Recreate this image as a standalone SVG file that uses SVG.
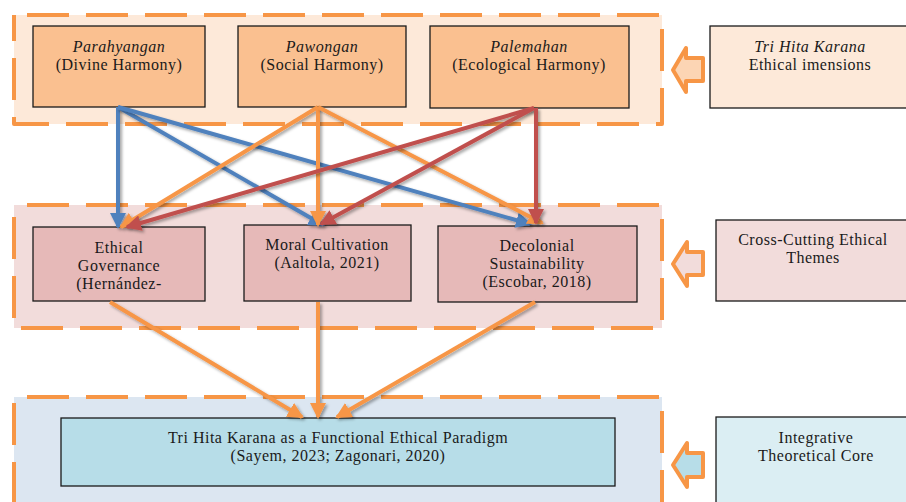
<svg xmlns="http://www.w3.org/2000/svg" width="906" height="502" viewBox="0 0 906 502">
<style>
  .grp { stroke: #f79646; stroke-width: 4; stroke-dasharray: 42 17; stroke-dashoffset: 46; stroke-linejoin: round; }
  .box { stroke: #1a1a1a; stroke-width: 1.3; }
  .side { stroke: #1a1a1a; stroke-width: 1.3; }
  .hollow { stroke: #f79646; stroke-width: 4; stroke-linejoin: round; }
  text { font-family: "Liberation Serif", "Times New Roman", serif; font-size: 16px; letter-spacing: 0.5px; fill: #1a1a1a; text-anchor: middle; }
  .it { font-style: italic; }
  .c { fill: none; stroke-width: 4; filter: url(#sh); }
  .blue { stroke: #4f81bd; marker-end: url(#mb); }
  .orange { stroke: #f79646; marker-end: url(#mo); }
  .red { stroke: #c0504d; marker-end: url(#mr); }
</style>
<defs>
  <filter id="sh" filterUnits="userSpaceOnUse" x="0" y="0" width="906" height="502">
    <feDropShadow dx="2" dy="2" stdDeviation="1.5" flood-color="#000" flood-opacity="0.35"/>
  </filter>
  <marker id="mb" markerUnits="userSpaceOnUse" markerWidth="16" markerHeight="16" refX="14" refY="8" orient="auto" viewBox="0 0 16 16">
    <path d="M0,0 L16,8 L0,16 Z" fill="#4f81bd"/>
  </marker>
  <marker id="mo" markerUnits="userSpaceOnUse" markerWidth="16" markerHeight="16" refX="14" refY="8" orient="auto" viewBox="0 0 16 16">
    <path d="M0,0 L16,8 L0,16 Z" fill="#f79646"/>
  </marker>
  <marker id="mr" markerUnits="userSpaceOnUse" markerWidth="16" markerHeight="16" refX="14" refY="8" orient="auto" viewBox="0 0 16 16">
    <path d="M0,0 L16,8 L0,16 Z" fill="#c0504d"/>
  </marker>
</defs>
<rect width="906" height="502" fill="#ffffff"/>

<!-- Group containers -->
<g id="group-dimensions">
  <rect class="grp" x="14" y="15" width="648" height="109" fill="#fde9d9"/>
</g>
<g id="group-themes">
  <rect class="grp" x="14" y="205" width="648" height="123" fill="#f2dcdb"/>
</g>
<g id="group-core">
  <rect class="grp" x="14" y="397" width="648" height="120" fill="#dce6f1"/>
</g>

<!-- Top nodes -->
<g id="parahyangan">
  <rect class="box" x="33" y="26" width="172" height="81" fill="#fac090"/>
  <text x="119" y="52" class="it">Parahyangan</text>
  <text x="119" y="70">(Divine Harmony)</text>
</g>
<g id="pawongan">
  <rect class="box" x="238" y="26" width="168" height="81" fill="#fac090"/>
  <text x="322" y="52" class="it">Pawongan</text>
  <text x="322" y="70">(Social Harmony)</text>
</g>
<g id="palemahan">
  <rect class="box" x="430" y="26" width="199" height="82" fill="#fac090"/>
  <text x="529" y="52" class="it">Palemahan</text>
  <text x="529" y="70">(Ecological Harmony)</text>
</g>

<!-- Middle nodes -->
<g id="ethical-governance">
  <rect class="box" x="33" y="227" width="172" height="74" fill="#e6b9b8"/>
  <text x="119" y="253">Ethical</text>
  <text x="119" y="271">Governance</text>
  <text x="119" y="289">(Hernández-</text>
</g>
<g id="moral-cultivation">
  <rect class="box" x="244" y="225" width="167" height="76" fill="#e6b9b8"/>
  <text x="327" y="250">Moral Cultivation</text>
  <text x="327" y="268">(Aaltola, 2021)</text>
</g>
<g id="decolonial-sustainability">
  <rect class="box" x="438" y="226" width="199" height="76" fill="#e6b9b8"/>
  <text x="537" y="251">Decolonial</text>
  <text x="537" y="269">Sustainability</text>
  <text x="537" y="287">(Escobar, 2018)</text>
</g>

<!-- Bottom node -->
<g id="functional-paradigm">
  <rect class="box" x="61" y="418" width="554" height="68" fill="#b7dde8"/>
  <text x="338" y="443">Tri Hita Karana as a Functional Ethical Paradigm</text>
  <text x="338" y="461">(Sayem, 2023; Zagonari, 2020)</text>
</g>

<!-- Side labels -->
<g id="label-dimensions">
  <rect class="side" x="710" y="26" width="200" height="82" fill="#fde9d9"/>
  <text x="810" y="52" class="it">Tri Hita Karana</text>
  <text x="810" y="70">Ethical imensions</text>
</g>
<g id="label-themes">
  <rect class="side" x="716" y="220" width="194" height="81" fill="#f2dcdb"/>
  <text x="813" y="245">Cross-Cutting Ethical</text>
  <text x="813" y="263">Themes</text>
</g>
<g id="label-core">
  <rect class="side" x="716" y="417" width="194" height="100" fill="#dbeef3"/>
  <text x="816" y="443">Integrative</text>
  <text x="816" y="461">Theoretical Core</text>
</g>

<!-- Hollow block arrows -->
<g id="side-arrows">
  <path class="hollow" d="M673,70 L686,48 L686,58 L703,58 L703,81 L686,81 L686,92 Z" fill="#fcd5b4"/>
  <path class="hollow" d="M673,264 L687,242 L687,252 L703,252 L703,275 L687,275 L687,286 Z" fill="#f2dcdb"/>
  <path class="hollow" d="M673,465 L687,443 L687,453 L703,453 L703,477 L687,477 L687,487 Z" fill="#b7dde8"/>
</g>

<!-- Connectors -->
<g id="connectors">
  <line class="c blue" x1="118" y1="107" x2="118" y2="227"/>
  <line class="c blue" x1="118" y1="107" x2="323" y2="225"/>
  <line class="c blue" x1="118" y1="107" x2="530" y2="224"/>
  <line class="c orange" x1="318" y1="107" x2="121" y2="227"/>
  <line class="c orange" x1="318" y1="107" x2="318" y2="225"/>
  <line class="c orange" x1="318" y1="107" x2="542" y2="223"/>
  <line class="c red" x1="534" y1="108" x2="127" y2="227"/>
  <line class="c red" x1="534" y1="108" x2="321" y2="224"/>
  <line class="c red" x1="536" y1="108" x2="536" y2="223"/>
  <line class="c orange" x1="110" y1="302" x2="302" y2="417"/>
  <line class="c orange" x1="318" y1="302" x2="318" y2="417"/>
  <line class="c orange" x1="535" y1="302" x2="337" y2="417"/>
</g>
</svg>
